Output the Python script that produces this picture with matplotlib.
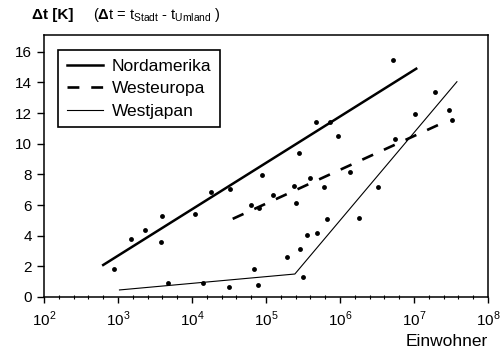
import matplotlib
matplotlib.use("Agg")
import matplotlib.pyplot as plt
from matplotlib.ticker import FixedLocator, NullFormatter
import numpy as np

plt.rcParams['font.family'] = ['Liberation Sans', 'DejaVu Sans']
plt.rcParams['mathtext.fontset'] = 'custom'
plt.rcParams['mathtext.rm'] = 'Liberation Sans'
plt.rcParams['mathtext.bf'] = 'Liberation Sans:bold'

# scatter points: log10(Einwohner), delta t [K]
pts_log_einw = [2.95, 3.17, 3.36, 3.59, 3.58, 4.04, 4.26, 4.51, 4.80, 4.90,
                4.84, 3.68, 4.15, 4.50, 4.89, 5.67, 5.87, 5.97, 5.44, 4.95,
                5.09, 5.38, 5.40, 5.60, 5.79, 6.13, 5.82, 5.55, 5.69, 5.46,
                5.29, 5.50, 6.72, 7.29, 7.47, 7.51, 7.02, 6.75, 6.52, 6.26]
pts_dt = [1.83, 3.77, 4.36, 5.31, 3.59, 5.42, 6.83, 7.04, 5.99, 5.80,
          1.81, 0.93, 0.90, 0.67, 0.80, 11.39, 11.41, 10.48, 9.39, 7.96,
          6.67, 7.25, 6.12, 7.78, 7.19, 8.15, 5.08, 4.05, 4.16, 3.15,
          2.63, 1.31, 15.49, 13.38, 12.22, 11.57, 11.94, 10.31, 7.21, 5.18]

# regression lines
nam_log = [2.80, 7.03]
nam_dt = [2.09, 14.9]
weu_log = [4.55, 7.45]
weu_dt = [5.1, 11.5]
wjp_log = [3.02, 5.39, 7.58]
wjp_dt = [0.46, 1.50, 14.05]

fig = plt.figure(figsize=(5.02, 3.58), dpi=100)
ax = fig.add_axes([44 / 502, 1 - 297 / 358, 444 / 502, 262 / 358])

ax.plot(10 ** np.array(pts_log_einw), pts_dt, 'ko', ms=3.5, mec='none')
ax.plot(10 ** np.array(nam_log), nam_dt, 'k-', lw=1.8, label='Nordamerika')
ax.plot(10 ** np.array(weu_log), weu_dt, 'k', lw=1.9, dashes=(4.5, 4.5),
        label='Westeuropa')
ax.plot(10 ** np.array(wjp_log), wjp_dt, 'k-', lw=0.8, label='Westjapan')

ax.set_xscale('log')
ax.set_xlim(1e2, 1e8)
ax.set_ylim(0, 17.1)
ax.set_yticks(range(0, 17, 2))

majors = [10.0 ** k for k in range(2, 9)]
minors = [10.0 ** (k + f) for k in range(2, 8) for f in (0.2, 0.4, 0.6, 0.8)]
ax.xaxis.set_major_locator(FixedLocator(majors))
ax.xaxis.set_minor_locator(FixedLocator(minors))
ax.xaxis.set_minor_formatter(NullFormatter())
ax.set_xticklabels([f'$10^{{{k}}}$' for k in range(2, 9)])

ax.tick_params(axis='x', which='major', direction='out', length=4, width=1,
               labelsize=11, pad=5)
ax.tick_params(axis='x', which='minor', direction='inout', length=3, width=0.8)
ax.tick_params(axis='y', direction='out', length=5, width=1, labelsize=11)
for s in ax.spines.values():
    s.set_linewidth(1.1)

leg = ax.legend(loc='upper left', bbox_to_anchor=(0.0315, 0.943),
                borderaxespad=0, fontsize=12.5,
                handlelength=2.1, handletextpad=0.5, labelspacing=0.42,
                borderpad=0.5, fancybox=False, framealpha=1, edgecolor='k')
leg.get_frame().set_linewidth(1.2)

fig.text(32 / 502, 1 - 15 / 358, 'Δt [K]', fontsize=11, fontweight='bold',
         va='center')
fig.text(93 / 502, 1 - 15 / 358,
         r'($\mathbf{\Delta}$t = t$_{\mathrm{Stadt}}$ - t$_{\mathrm{Umland}}$ )',
         fontsize=10.5, va='center')
fig.text(488 / 502, 1 - 342 / 358, 'Einwohner', fontsize=12.5,
         ha='right', va='center')

fig.savefig('out.png', dpi=100)
